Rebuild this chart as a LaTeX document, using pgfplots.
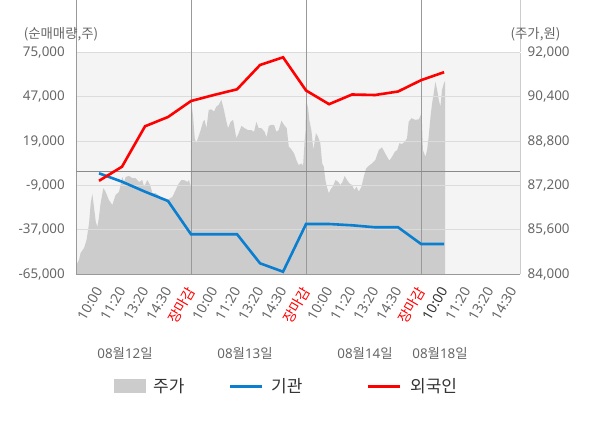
\documentclass[border=0pt]{standalone}
\usepackage{pgfplots}
\pgfplotsset{compat=1.18}
\usepackage{fontspec}
\setmainfont{Noto Sans CJK KR}
\newfontfamily\nfont{Noto Sans}
\definecolor{bgc}{HTML}{F4F4F4}
\definecolor{areac}{HTML}{CCCCCC}
\definecolor{gridc}{HTML}{DCDCDC}
\definecolor{axc}{HTML}{999999}
\definecolor{raxc}{HTML}{CCCCCC}
\definecolor{txt}{HTML}{666666}
\definecolor{dark}{HTML}{333333}
\definecolor{bluec}{HTML}{0A7ECF}
\definecolor{redc}{HTML}{FF0000}
\newcommand{\tfont}{\nfont\fontsize{13.4bp}{16bp}\selectfont}
\newcommand{\xfont}{\nfont\fontsize{13.8bp}{16bp}\selectfont}
\newcommand{\kfont}{\fontsize{13.4bp}{16bp}\selectfont}
\newcommand{\lfont}{\fontsize{17bp}{20bp}\selectfont}
\newcommand{\jm}{\textcolor{redc}{\rmfamily\fontsize{14bp}{16bp}\selectfont 장마감}}
\begin{document}
\begin{tikzpicture}[x=1bp,y=1bp]
\useasboundingbox (0,0) rectangle (600,428);
% price axis (right)
\begin{axis}[at={(76bp,153.7bp)}, anchor=south west, scale only axis,
  width=444bp, height=221.8bp,
  xmin=0, xmax=19.3, ymin=84000, ymax=92000,
  axis x line=none, axis y line*=right,
  axis line style={-, draw=raxc, line width=1bp},
  ytick={84000,85600,87200,88800,90400,92000},
  scaled y ticks=false,
  major tick length=0pt,
  yticklabel style={font=\tfont, text=txt, anchor=west, inner sep=0pt},
  yticklabel shift=7.5bp,
  /pgf/number format/assume math mode=true,
  /pgf/number format/1000 sep={,},
  axis background/.style={fill=bgc},
]
\addplot[fill=areac, draw=none] coordinates {
(0,84000)(0,84300)(0.13,84520)(0.20,84770)(0.35,84950)(0.46,85240)(0.57,85850)(0.64,86570)(0.71,86900)(0.78,86430)(0.86,85890)(0.93,85710)(1.00,86070)(1.07,86570)(1.19,87110)(1.29,86970)(1.43,86680)(1.58,86500)(1.72,86860)(1.87,86970)(2.01,87510)(2.09,87330)(2.16,87510)(2.30,87550)(2.45,87470)(2.59,87470)(2.74,87330)(2.88,87400)(2.96,87150)(3.10,87400)(3.22,87220)(3.32,86930)(3.46,86930)(3.68,86790)(3.83,86750)(3.97,86680)(4.19,86790)(4.33,87040)(4.48,87290)(4.58,87400)(4.70,87400)(4.84,87330)(4.91,87400)(4.99,87150)
(5.01,90230)(5.09,89690)(5.16,88910)(5.23,88730)(5.30,88910)(5.42,89200)(5.52,89500)(5.59,89570)(5.67,89270)(5.77,89930)(5.88,89950)(6.00,89870)(6.10,90050)(6.20,90110)(6.32,90290)(6.43,89930)(6.54,89500)(6.61,89270)(6.72,89500)(6.83,89570)(6.97,88910)(7.07,89090)(7.19,89350)(7.33,89270)(7.48,89200)(7.62,89200)(7.74,89140)(7.84,89500)(7.94,89270)(8.06,89270)(8.20,89140)(8.28,88940)(8.38,89350)(8.49,89390)(8.61,89390)(8.71,89140)(8.81,89200)(8.93,89540)(9.04,89390)(9.16,89270)(9.25,88600)(9.36,88510)(9.48,88360)(9.58,88120)(9.68,87940)(9.80,88000)(9.87,87910)(9.94,88840)(9.98,89200)
(10.00,90290)(10.09,89990)(10.14,89570)(10.23,89200)(10.32,88480)(10.38,88840)(10.43,89090)(10.52,88960)(10.62,88730)(10.70,88000)(10.77,87880)(10.84,87400)(10.91,87140)(10.99,86920)(11.07,87070)(11.16,87160)(11.28,87400)(11.39,87340)(11.49,87220)(11.59,87340)(11.68,87550)(11.78,87400)(11.88,87280)(12.00,87220)(12.10,87040)(12.19,87160)(12.29,86980)(12.41,87160)(12.51,87520)(12.61,87820)(12.72,87910)(12.87,88000)(13.01,88120)(13.16,88480)(13.30,88580)(13.42,88390)(13.52,88240)(13.62,88100)(13.74,88240)(13.86,88420)(13.96,88480)(14.06,88730)(14.17,88700)(14.29,88780)(14.39,88910)(14.46,89500)(14.58,89630)(14.75,89570)(14.90,89590)(14.99,89750)(15.02,89870)
(15.08,88480)(15.19,88240)(15.26,88480)(15.33,88960)(15.41,89690)(15.48,90170)(15.55,90530)(15.62,90950)(15.70,90650)(15.77,90290)(15.84,90050)(15.91,90650)(15.99,90890)(16.05,90980)(16.05,84000)
};
\end{axis}
% net buying axis (left)
\begin{axis}[at={(76bp,153.7bp)}, anchor=south west, scale only axis,
  width=444bp, height=221.8bp,
  xmin=0, xmax=19.3, ymin=-65000, ymax=75000,
  clip=false,
  axis x line*=bottom, axis y line*=left,
  axis line style={-, draw=axc, line width=1bp},
  ytick={-65000,-37000,-9000,19000,47000,75000},
  scaled y ticks=false,
  ymajorgrids,
  major grid style={draw=gridc, line width=1bp},
  major tick length=0pt,
  yticklabel style={font=\tfont, text=txt, anchor=east, inner sep=0pt},
  yticklabel shift=11bp,
  /pgf/number format/assume math mode=true,
  /pgf/number format/1000 sep={,},
  xtick={1,2,3,4,5,6,7,8,9,10,11,12,13,14,15,16,17,18,19},
  xticklabels={10:00,11:20,13:20,14:30,\jm,10:00,11:20,13:20,14:30,\jm,10:00,11:20,13:20,14:30,\jm,\textcolor{dark}{10:00},11:20,13:20,14:30},
  xticklabel style={font=\xfont, text=txt, rotate=60, anchor=east, inner sep=0pt},
  xticklabel shift=14bp,
  extra x ticks={5,10,15},
  extra x tick labels={},
  extra x tick style={grid=major, major grid style={draw=axc, line width=1bp}},
  extra y ticks={0},
  extra y tick labels={},
  extra y tick style={grid=major, major grid style={draw=axc!90!black, line width=1bp}},
]
\addplot[bluec, line width=2.6bp] coordinates {
(1,-1250)(2,-6550)(3,-12860)(4,-18730)(5,-39750)(6,-39750)(7,-39700)(8,-58060)(9,-63360)(10,-33250)(11,-33250)(12,-34070)(13,-35330)(14,-35330)(15,-45880)(16,-45880)
};
\addplot[redc, line width=2.6bp] coordinates {
(1,-5980)(2,2920)(3,28420)(4,34290)(5,44390)(6,48200)(7,51770)(8,67110)(9,71970)(10,51010)(11,42370)(12,48490)(13,48170)(14,50380)(15,57520)(16,62570)
};
\draw[axc, line width=1bp] (axis cs:0,75000) -- ++(0,7.5bp);
\draw[axc, line width=1bp] (axis cs:5,75000) -- ++(0,7.5bp);
\draw[axc, line width=1bp] (axis cs:10,75000) -- ++(0,7.5bp);
\draw[axc, line width=1bp] (axis cs:15,75000) -- ++(0,7.5bp);
\draw[raxc, line width=1bp] (axis cs:19.3,75000) -- ++(0,7.5bp);
\end{axis}
% unit labels
\node[font=\kfont, text=txt, inner sep=0pt] at (61,394) {(순매매량,주)};
\node[font=\kfont, text=txt, inner sep=0pt] at (535.5,394) {(주가,원)};
% date labels
\node[font=\kfont, text=txt, inner sep=0pt] at (125,75) {{\nfont 08}월{\nfont 12}일};
\node[font=\kfont, text=txt, inner sep=0pt] at (245,75) {{\nfont 08}월{\nfont 13}일};
\node[font=\kfont, text=txt, inner sep=0pt] at (365,75) {{\nfont 08}월{\nfont 14}일};
\node[font=\kfont, text=txt, inner sep=0pt] at (440,75) {{\nfont 08}월{\nfont 18}일};
% legend
\fill[areac] (114,35) rectangle (146,49);
\node[anchor=west, font=\lfont, text=dark, inner sep=0pt] at (153,42) {주가};
\draw[bluec, line width=3bp] (230,42) -- (262,42);
\node[anchor=west, font=\lfont, text=dark, inner sep=0pt] at (271,42) {기관};
\draw[redc, line width=3bp] (368,42) -- (400,42);
\node[anchor=west, font=\lfont, text=dark, inner sep=0pt] at (410,42) {외국인};
\end{tikzpicture}
\end{document}
